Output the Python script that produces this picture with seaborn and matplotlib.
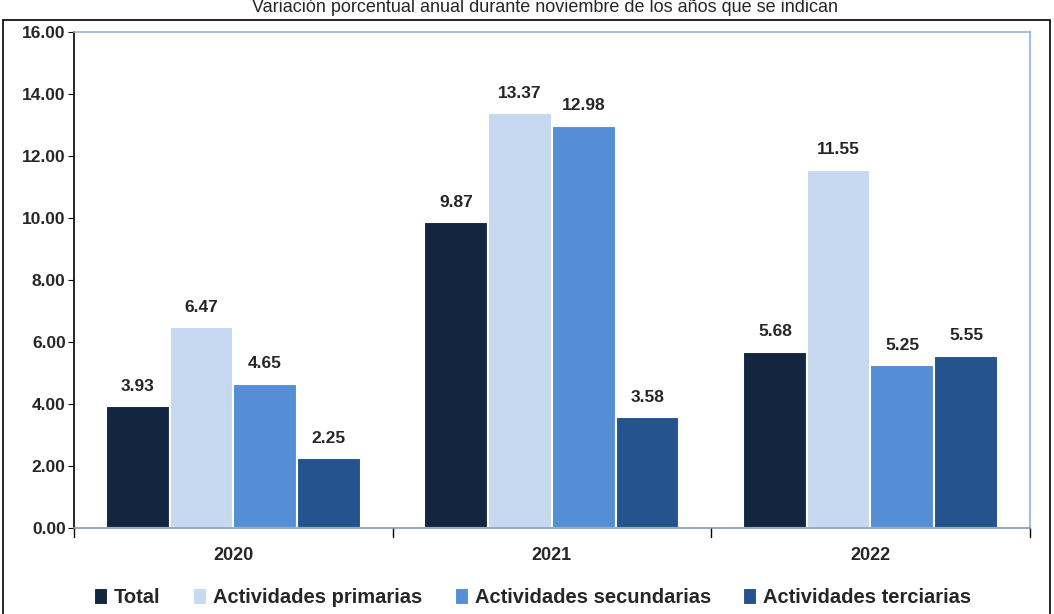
import pandas as pd
import matplotlib.pyplot as plt
import seaborn as sns
from matplotlib.patches import Rectangle

years = ["2020", "2021", "2022"]
series = ["Total", "Actividades primarias", "Actividades secundarias", "Actividades terciarias"]
total = [3.93, 9.87, 5.68]
primarias = [6.47, 13.37, 11.55]
secundarias = [4.65, 12.98, 5.25]
terciarias = [2.25, 3.58, 5.55]
colors = ["#12263F", "#C6D9F0", "#558ED5", "#24538E"]

rows = []
for name, vals in zip(series, [total, primarias, secundarias, terciarias]):
    for y, v in zip(years, vals):
        rows.append({"year": y, "serie": name, "valor": v})
df = pd.DataFrame(rows)

sns.set_style("white")
plt.rcParams['font.family'] = ['Liberation Sans', 'DejaVu Sans']

fig = plt.figure(figsize=(10.54, 6.14), dpi=100)
ax = fig.add_axes([0.0702, 0.140, 0.9068, 0.808])
sns.barplot(data=df, x="year", y="valor", hue="serie", palette=colors,
            hue_order=series, order=years, width=0.8, ax=ax,
            edgecolor="white", linewidth=1.5, saturation=1)

for c in ax.containers:
    ax.bar_label(c, fmt="%.2f", padding=9, fontsize=12.5, fontweight="bold")

ax.set_ylim(0, 16)
ax.set_xlim(-0.5, 2.5)
ax.set_yticks(range(0, 17, 2))
ax.set_yticklabels([f"{v:.2f}" for v in range(0, 17, 2)], fontsize=12.5, fontweight="bold")
ax.set_xticks([0, 1, 2])
ax.set_xticklabels(years, fontsize=13, fontweight="bold")
ax.tick_params(axis="x", length=0, pad=14)
ax.tick_params(axis="y", length=4, direction="out", left=True, color="black", pad=2)
for xs in [-0.5, 0.5, 1.5, 2.5]:
    ax.plot([xs, xs], [0, -0.018], transform=ax.get_xaxis_transform(), color="black",
            lw=1, clip_on=False)
ax.set_xlabel("")
ax.set_ylabel("")
ax.spines["left"].set_color("black")
ax.spines["top"].set_color("#8DB4E2")
ax.spines["right"].set_color("#8DB4E2")
ax.spines["bottom"].set_color("#7F9BBF")
for s in ax.spines.values():
    s.set_linewidth(1.2)

ax.legend(loc="center", bbox_to_anchor=(0.48, -0.14), ncol=4, frameon=False,
          prop={"weight": "bold", "size": 14.5}, handlelength=0.7, handleheight=0.9,
          handletextpad=0.3, columnspacing=1.6)

fig.patches.append(Rectangle((3 / 1054, -0.01), 1047 / 1054, 594 / 614 + 0.01,
                             transform=fig.transFigure, fill=False, edgecolor="black", lw=1.2))
fig.text(0.517, 0.988, "Variación porcentual anual durante noviembre de los años que se indican",
         ha="center", va="center", fontsize=13)

plt.savefig("out.png", dpi=100)
